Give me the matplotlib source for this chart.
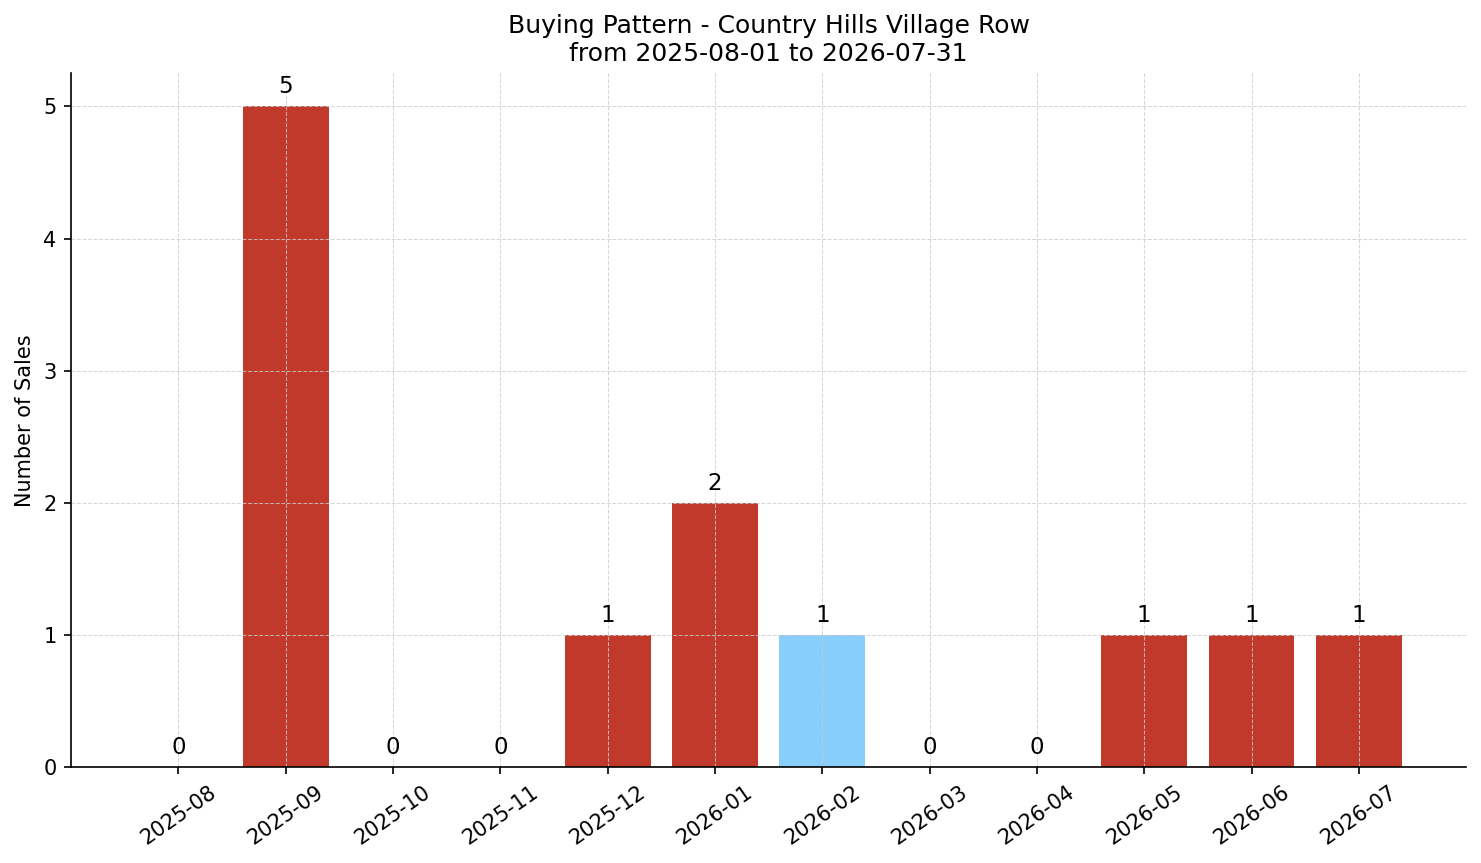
import matplotlib
matplotlib.use("Agg")
import matplotlib.pyplot as plt
import numpy as np

months = ["2025-08", "2025-09", "2025-10", "2025-11", "2025-12", "2026-01",
          "2026-02", "2026-03", "2026-04", "2026-05", "2026-06", "2026-07"]
sales = [0, 5, 0, 0, 1, 2, 1, 0, 0, 1, 1, 1]
highlight = "2026-02"

RED = "#c0392b"
BLUE = "#87cefa"

fig, ax = plt.subplots(figsize=(1481 / 150, 863 / 150), dpi=150)
fig.subplots_adjust(left=0.048, right=0.99, top=0.915, bottom=0.111)

x = np.arange(len(months))
colors = [BLUE if m == highlight else RED for m in months]
bars = ax.bar(x, sales, width=0.8, color=colors)

for xi, v in zip(x, sales):
    ax.text(xi, v + 0.06, str(v), ha="center", va="bottom", fontsize=11)

ax.set_xticks(x)
ax.set_xticklabels(months, rotation=35, ha="center")
ax.set_xlim(-1, 12)
ax.set_ylim(0, max(sales) * 1.05)
ax.set_ylabel("Number of Sales")
ax.set_title("Buying Pattern - Country Hills Village Row\nfrom 2025-08-01 to 2026-07-31",
             fontsize=12)
ax.grid(True, linestyle="--", linewidth=0.5, color="#cccccc", alpha=0.8)
ax.spines["top"].set_visible(False)
ax.spines["right"].set_visible(False)

fig.savefig("out.png", dpi=150)
